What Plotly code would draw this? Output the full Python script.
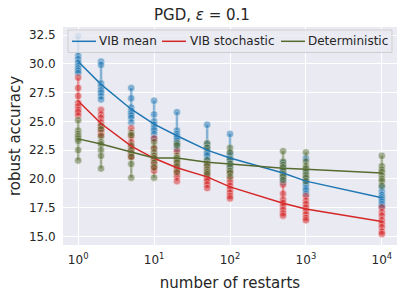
import plotly.graph_objects as go

restarts = [1, 2, 5, 10, 20, 50, 100, 500, 1000, 10000]

vib_mean_pts = [
    [32.4, 30.7, 30.4, 30.1, 29.8, 29.6, 29.4, 29.2],
    [30.2, 29.9, 28.3, 28.0, 27.7, 27.5, 27.2, 26.9],
    [27.9, 27.0, 26.2, 25.9, 25.7, 25.5, 25.3, 24.9],
    [26.8, 25.6, 25.0, 24.7, 24.4, 24.2, 23.9, 23.5],
    [25.8, 24.2, 23.9, 23.7, 23.5, 23.3, 23.0, 22.6],
    [24.7, 23.0, 22.7, 22.4, 22.2, 22.0, 21.7, 21.3],
    [23.9, 22.2, 22.0, 21.8, 21.6, 21.3, 21.0, 20.7],
    [21.4, 21.0, 20.8, 20.6, 20.4, 20.2, 20.0, 19.7],
    [21.8, 20.5, 20.0, 19.7, 19.5, 19.2, 19.0, 18.7],
    [19.3, 18.9, 18.6, 18.4, 18.2, 18.0, 17.8, 17.6],
]
vib_stoch_pts = [
    [28.8, 27.9, 27.2, 26.6, 26.3, 26.0, 25.8, 25.5],
    [26.0, 25.6, 25.3, 24.9, 24.6, 24.3, 24.0, 23.8],
    [24.4, 23.7, 23.2, 22.8, 22.5, 22.3, 22.0, 21.9],
    [23.5, 22.6, 22.0, 21.8, 21.5, 21.2, 21.0, 20.7],
    [22.4, 21.7, 21.3, 21.0, 20.8, 20.5, 20.2, 19.8],
    [21.3, 20.9, 20.5, 20.2, 20.0, 19.8, 19.5, 19.2],
    [20.6, 20.0, 19.7, 19.4, 19.1, 18.8, 18.5, 18.3],
    [19.5, 18.7, 18.2, 17.9, 17.6, 17.3, 17.0, 16.8],
    [18.5, 18.1, 17.8, 17.5, 17.2, 16.9, 16.6, 16.4],
    [17.5, 17.1, 16.8, 16.4, 16.1, 15.8, 15.4, 15.2],
]
determ_pts = [
    [25.1, 24.2, 23.9, 23.7, 23.5, 23.3, 22.5, 21.6],
    [24.6, 24.3, 23.7, 23.2, 23.0, 22.5, 22.0, 20.9],
    [24.0, 23.8, 22.9, 22.5, 22.2, 21.9, 21.3, 20.1],
    [23.2, 22.7, 22.3, 22.0, 21.8, 21.4, 21.0, 20.1],
    [23.1, 22.9, 22.0, 21.8, 21.6, 21.4, 21.1, 20.6],
    [23.1, 22.7, 21.6, 21.3, 21.1, 20.8, 20.6, 20.4],
    [22.7, 22.3, 21.7, 21.3, 21.0, 20.7, 20.5, 20.2],
    [22.4, 21.5, 21.2, 21.0, 20.7, 20.4, 20.2, 19.9],
    [22.3, 21.5, 21.1, 20.9, 20.6, 20.3, 20.1, 19.8],
    [22.0, 21.1, 20.8, 20.6, 20.3, 20.0, 19.8, 19.4],
]

series_names = ["VIB mean", "VIB stochastic", "Deterministic"]
series_pts = [vib_mean_pts, vib_stoch_pts, determ_pts]
series_colors = ["#1f77b4", "#d62728", "#556b2f"]
series_rgba = ["rgba(31,119,180,0.5)", "rgba(214,39,40,0.5)", "rgba(85,107,47,0.5)"]

x_tickvals = [1, 10, 100, 1000, 10000]
x_ticktext = ["10<sup>0</sup>", "10<sup>1</sup>", "10<sup>2</sup>", "10<sup>3</sup>", "10<sup>4</sup>"]
y_tickvals = [15.0, 17.5, 20.0, 22.5, 25.0, 27.5, 30.0, 32.5]

W, H = 404, 296
ML, MR, MT, MB = 63, 7, 27, 51
PW, PH = W - ML - MR, H - MT - MB

fig = go.Figure()

# vertical range lines
for pts, rgba in zip(series_pts, series_rgba):
    vx, vy = [], []
    for r, p in zip(restarts, pts):
        vx += [r, r, None]
        vy += [min(p), max(p), None]
    fig.add_trace(go.Scatter(x=vx, y=vy, mode="lines", line=dict(color=rgba, width=2.5),
                             showlegend=False, hoverinfo="skip"))

# scatter points
for pts, col in zip(series_pts, series_colors):
    sx, sy = [], []
    for r, p in zip(restarts, pts):
        sx += [r] * len(p)
        sy += p
    fig.add_trace(go.Scatter(x=sx, y=sy, mode="markers",
                             marker=dict(color=col, size=7.5, opacity=0.5,
                                         line=dict(color="white", width=0.6)),
                             showlegend=False))

# mean lines
for name, pts, col in zip(series_names, series_pts, series_colors):
    means = [sum(p) / len(p) for p in pts]
    fig.add_trace(go.Scatter(x=restarts, y=means, mode="lines", name=name,
                             line=dict(color=col, width=1.5), showlegend=False))

# legend drawn in paper coordinates (matplotlib-style single row box)
def px_x(px):
    return (px - ML) / PW

def px_y(py):
    return (H - MB - py) / PH

shapes = [dict(type="rect", xref="paper", yref="paper", layer="above",
               x0=px_x(68), x1=px_x(392), y0=px_y(52.5), y1=px_y(30),
               fillcolor="rgba(234,234,242,0.8)", line=dict(color="rgba(204,204,204,0.9)", width=1))]
annotations = []
leg_handles = [(72, 98), (162, 189), (281, 306.5)]
leg_y = 41.3
for (hx, tx), name, col in zip(leg_handles, series_names, series_colors):
    shapes.append(dict(type="line", xref="paper", yref="paper", layer="above",
                       x0=px_x(hx), x1=px_x(hx + 24), y0=px_y(leg_y), y1=px_y(leg_y),
                       line=dict(color=col, width=1.5)))
    annotations.append(dict(text=name, xref="paper", yref="paper", x=px_x(tx), y=px_y(leg_y),
                            xanchor="left", yanchor="middle", showarrow=False, borderpad=0,
                            font=dict(size=12, color="#262626")))

font_family = "DejaVu Sans"
fig.update_layout(
    width=W, height=H,
    margin=dict(l=ML, r=MR, t=MT, b=MB, autoexpand=False),
    paper_bgcolor="white", plot_bgcolor="#EAEAF2",
    font=dict(family=font_family, size=12, color="#262626"),
    title=dict(text="PGD, <i>ε</i> = 0.1", x=0.5, xanchor="center", y=0.968, yanchor="top",
               font=dict(size=15, color="#262626")),
    showlegend=False,
    shapes=shapes,
    annotations=annotations,
)
fig.update_xaxes(type="log", range=[-0.2, 4.2], tickvals=x_tickvals, ticktext=x_ticktext,
                 showgrid=True, gridcolor="white", gridwidth=1, zeroline=False, showline=False,
                 ticks="outside", ticklen=4, tickcolor="rgba(0,0,0,0)", automargin=False,
                 title=dict(text="number of restarts", font=dict(size=15), standoff=11))
fig.update_yaxes(range=[14.25, 33.2], tickvals=y_tickvals, tickformat=".1f",
                 showgrid=True, gridcolor="white", gridwidth=1, zeroline=False, showline=False,
                 ticks="outside", ticklen=4, tickcolor="rgba(0,0,0,0)", automargin=False,
                 title=dict(text="robust accuracy", font=dict(size=15), standoff=4))

fig.write_html("out.html", config={"displayModeBar": False},
               post_script="document.body.style.margin='0';")
